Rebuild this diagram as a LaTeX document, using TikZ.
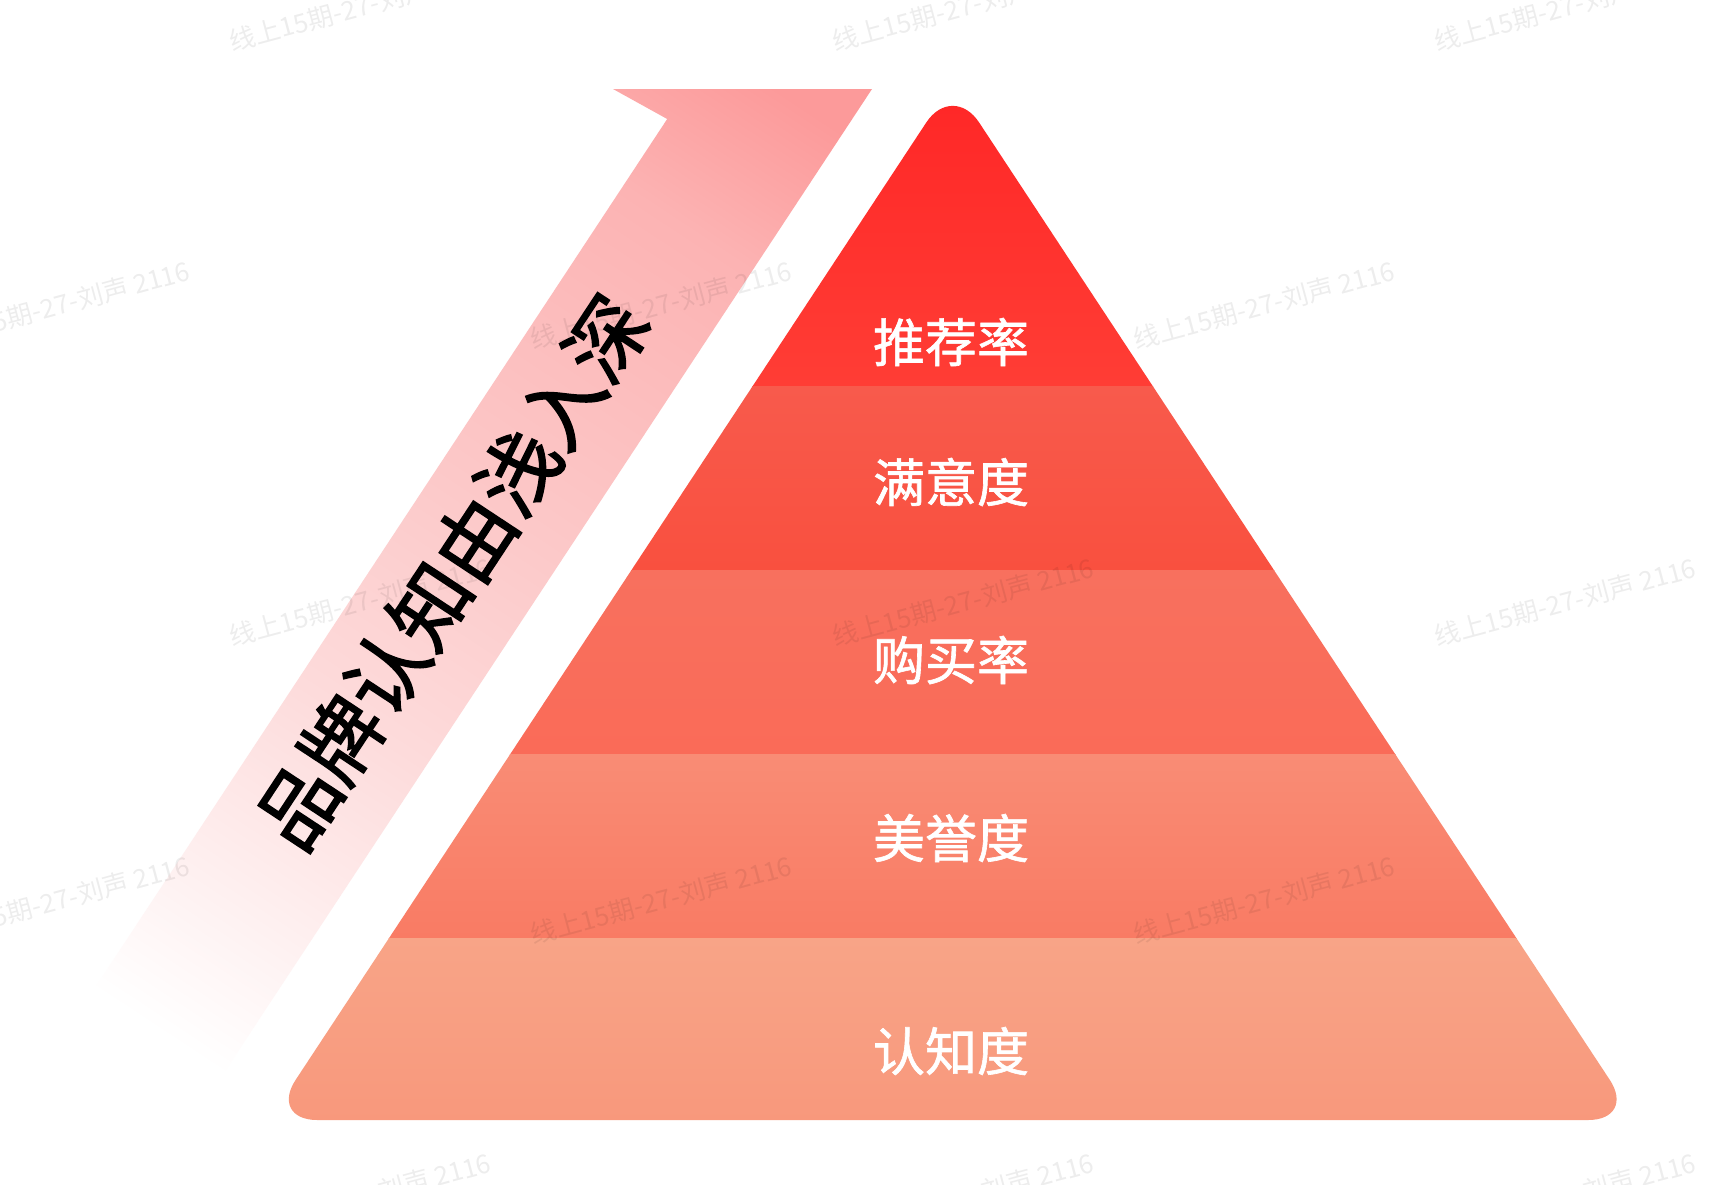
\documentclass[tikz,border=0pt]{standalone}
\usepackage{fontspec}
\setmainfont{Noto Sans CJK SC}
\newfontfamily\medfont{Noto Sans CJK SC}[FakeBold=1.2]
\newfontfamily\semifont{Noto Sans CJK SC}[FakeBold=2]

\definecolor{bandA}{HTML}{FF2626}
\definecolor{bandAb}{HTML}{FF3D35}
\definecolor{bandB}{HTML}{F85A4C}
\definecolor{bandBb}{HTML}{F9503F}
\definecolor{bandC}{HTML}{F8705E}
\definecolor{bandCb}{HTML}{FA6B58}
\definecolor{bandD}{HTML}{F98C75}
\definecolor{bandDb}{HTML}{F97B64}
\definecolor{bandE}{HTML}{F8A487}
\definecolor{bandEb}{HTML}{F8987C}
\definecolor{stripTop}{HTML}{FC9A9A}
\definecolor{stripHigh}{HTML}{FCB3B3}
\definecolor{stripMid}{HTML}{FCC8C8}
\definecolor{stripLow}{HTML}{FDDBDB}
\definecolor{stripEnd}{HTML}{FEEDED}

\pgfdeclareverticalshading{stripfade}{100bp}{color(0bp)=(white); color(21bp)=(white);
  color(31bp)=(stripEnd); color(41bp)=(stripLow); color(55bp)=(stripMid);
  color(73bp)=(stripHigh); color(82bp)=(stripTop); color(100bp)=(stripTop)}

\tikzset{
  lvl/.style={text=white, font=\medfont\fontsize{52}{52}\selectfont},
  wm/.style={text=black, opacity=0.07, rotate=15, anchor=west,
    font=\fontsize{26}{26}\selectfont, inner sep=0pt}
}

\begin{document}
\begin{tikzpicture}[x=1pt,y=-1pt]
	\useasboundingbox (0,0) rectangle (1718,1184);
	\fill[white] (0,0) rectangle (1718,1184);
	% rising strip on the left
	\shade[shading=stripfade, shading angle=-33.4]
		(613,89) -- (872,89) -- (219.2,1080) -- (34.2,1080) -- (667.2,119) -- cycle;
	\node[rotate=56.6, font=\semifont\fontsize{80}{80}\selectfont] (depth) at (452,572) {品牌认知由浅入深};
	% pyramid
	\begin{scope}
		\clip[rounded corners=48pt] (269.2,1120) -- (952.7,82.4) -- (1636.2,1120) -- cycle;
		\shade[top color=bandA, bottom color=bandAb] (0,80) rectangle (1718,386);
		\shade[top color=bandB, bottom color=bandBb] (0,386) rectangle (1718,570);
		\shade[top color=bandC, bottom color=bandCb] (0,570) rectangle (1718,754);
		\shade[top color=bandD, bottom color=bandDb] (0,754) rectangle (1718,938);
		\shade[top color=bandE, bottom color=bandEb] (0,938) rectangle (1718,1122);
	\end{scope}
	\node[lvl] (tuijian) at (951,342) {推荐率};
	\node[lvl] (manyi) at (951,482) {满意度};
	\node[lvl] (goumai) at (951,660) {购买率};
	\node[lvl] (meiyu) at (951,838) {美誉度};
	\node[lvl] (renzhi) at (951,1051) {认知度};
	% watermarks
	\node[wm] (wmA1) at (230,42) {线上15期-27-刘声 2116};
	\node[wm] (wmA2) at (833,42) {线上15期-27-刘声 2116};
	\node[wm] (wmA3) at (1435,42) {线上15期-27-刘声 2116};
	\node[wm] (wmB1) at (-71,340) {线上15期-27-刘声 2116};
	\node[wm] (wmB2) at (531,340) {线上15期-27-刘声 2116};
	\node[wm] (wmB3) at (1134,340) {线上15期-27-刘声 2116};
	\node[wm] (wmC1) at (230,637) {线上15期-27-刘声 2116};
	\node[wm] (wmC2) at (833,637) {线上15期-27-刘声 2116};
	\node[wm] (wmC3) at (1435,637) {线上15期-27-刘声 2116};
	\node[wm] (wmD1) at (-71,935) {线上15期-27-刘声 2116};
	\node[wm] (wmD2) at (531,935) {线上15期-27-刘声 2116};
	\node[wm] (wmD3) at (1134,935) {线上15期-27-刘声 2116};
	\node[wm] (wmE1) at (230,1232) {线上15期-27-刘声 2116};
	\node[wm] (wmE2) at (833,1232) {线上15期-27-刘声 2116};
	\node[wm] (wmE3) at (1435,1232) {线上15期-27-刘声 2116};
\end{tikzpicture}
\end{document}
